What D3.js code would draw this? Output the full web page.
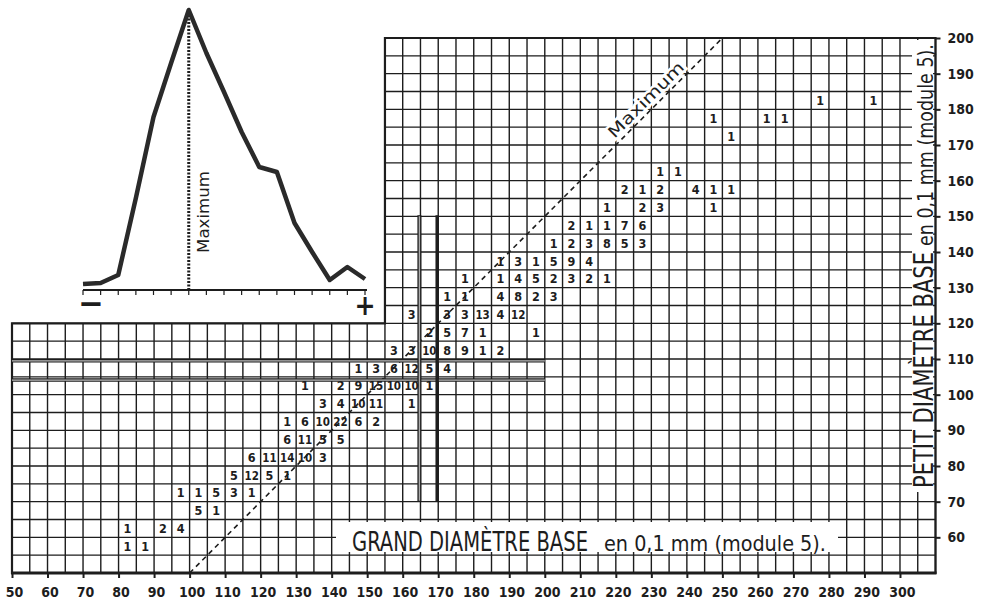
<!DOCTYPE html>
<html>
<head>
<meta charset="utf-8">
<script src="https://cdn.jsdelivr.net/npm/d3@7"></script>
<style>
  body { margin: 0; background: #fff; }
  svg { display: block; }
  text { font-family: "DejaVu Sans Condensed", "DejaVu Sans", sans-serif; fill: #1d1d1d; }
</style>
</head>
<body>
<svg id="chart" width="984" height="606"></svg>
<script>
// grand diametre (x) / petit diametre (y), classes of 5 (0,1 mm)
const GRAND_TICKS = [50, 60, 70, 80, 90, 100, 110, 120, 130, 140, 150, 160, 170, 180, 190, 200, 210, 220, 230, 240, 250, 260, 270, 280, 290, 300];
const PETIT_TICKS = [60, 70, 80, 90, 100, 110, 120, 130, 140, 150, 160, 170, 180, 190, 200];

// one entry per row of the table (lower bound of the petit class)
const PETIT_ROWS = [55, 60, 65, 70, 75, 80, 85, 90, 95, 100, 105, 110, 115, 120, 125, 130, 135, 140, 145, 150, 155, 160, 170, 175, 180];
const GRAND_BY_ROW = [
  [80, 85],
  [80, 90, 95],
  [100, 105],
  [95, 100, 105, 110, 115],
  [110, 115, 120, 125],
  [115, 120, 125, 130, 135],
  [125, 130, 135, 140],
  [125, 130, 135, 140, 145, 150],
  [135, 140, 145, 150, 160],
  [130, 140, 145, 150, 155, 160, 165],
  [145, 150, 155, 160, 165, 170],
  [155, 160, 165, 170, 175, 180, 185],
  [165, 170, 175, 180, 195],
  [160, 170, 175, 180, 185, 190],
  [170, 175, 185, 190, 195, 200],
  [175, 185, 190, 195, 200, 205, 210, 215],
  [185, 190, 195, 200, 205, 210],
  [200, 205, 210, 215, 220, 225],
  [205, 210, 215, 220, 225],
  [215, 225, 230, 245],
  [220, 225, 230, 240, 245, 250],
  [230, 235],
  [250],
  [245, 260, 265],
  [275, 290]
];
const COUNT_BY_ROW = [
  [1, 1],
  [1, 2, 4],
  [5, 1],
  [1, 1, 5, 3, 1],
  [5, 12, 5, 1],
  [6, 11, 14, 10, 3],
  [6, 11, 5, 5],
  [1, 6, 10, 22, 6, 2],
  [3, 4, 10, 11, 1],
  [1, 2, 9, 15, 10, 10, 1],
  [1, 3, 6, 12, 5, 4],
  [3, 3, 10, 8, 9, 1, 2],
  [2, 5, 7, 1, 1],
  [3, 3, 3, 13, 4, 12],
  [1, 1, 4, 8, 2, 3],
  [1, 1, 4, 5, 2, 3, 2, 1],
  [1, 3, 1, 5, 9, 4],
  [1, 2, 3, 8, 5, 3],
  [2, 1, 1, 7, 6],
  [1, 2, 3, 1],
  [2, 1, 2, 4, 1, 1],
  [1, 1],
  [1],
  [1, 1, 1],
  [1, 1]
];

// reference lines drawn across the table
const H_LINES = [109.5, 104.1];
const V_LINES = [164.7, 169.7];

// small frequency curve (upper left)
const INSET_STEP = [0, 1, 2, 3, 4, 5, 6, 7, 8, 9, 10, 11, 12, 13, 14, 15, 16];
const INSET_FREQ = [6, 7, 15, 92, 173, 227, 280, 237, 198, 158, 123, 118, 67, 38, 10, 23, 11];
const INSET_MAX_STEP = 6;

const svg = d3.select("#chart");
const ink = "#1d1d1d";

const x = d3.scaleLinear().domain([50, 310]).range([12, 935.5]);
const y = d3.scaleLinear().domain([50, 200]).range([573, 38]);

// narrow lettering: draw at full size then squeeze to the wanted width
function squeeze(parent, str, size, width, anchor) {
  let t = parent.append("text").attr("font-size", size).text(str);
  let w = t.node().getComputedTextLength();
  if (anchor) t.attr("text-anchor", anchor);
  t.attr("transform", `scale(${width / w},1)`);
  return t;
}

// grid (stepped outline: low part stops at 155 / 120)
let grid = d3.path();
for (let v = 50; v <= 310; v += 5) {
  let top = v < 155 ? 120 : 200;
  grid.moveTo(x(v), y(50));
  grid.lineTo(x(v), y(top));
}
for (let w = 50; w <= 200; w += 5) {
  let left = w <= 120 ? 50 : 155;
  grid.moveTo(x(left), y(w));
  grid.lineTo(x(310), y(w));
}
svg.append("path")
  .attr("d", grid.toString())
  .attr("fill", "none")
  .attr("stroke", ink)
  .attr("stroke-width", 1.4);

let outline = d3.path();
outline.moveTo(x(50), y(50));
outline.lineTo(x(50), y(120));
outline.lineTo(x(155), y(120));
outline.lineTo(x(155), y(200));
outline.lineTo(x(310), y(200));
outline.lineTo(x(310), y(50));
outline.closePath();
svg.append("path")
  .attr("d", outline.toString())
  .attr("fill", "none")
  .attr("stroke", ink)
  .attr("stroke-width", 2.2);

svg.append("line")
  .attr("x1", x(50) - 1).attr("x2", x(310) + 1)
  .attr("y1", y(50)).attr("y2", y(50))
  .attr("stroke", ink).attr("stroke-width", 3.2);

// bottom axis
let axisX = d3.axisBottom(x).tickValues(GRAND_TICKS).tickSize(5).tickPadding(9);
let gx = svg.append("g").attr("transform", `translate(0,${y(50)})`).call(axisX);
gx.select(".domain").remove();
gx.selectAll("line").attr("stroke", ink).attr("stroke-width", 2);
gx.selectAll("text")
  .attr("dx", 2)
  .attr("font-family", "DejaVu Sans Condensed, DejaVu Sans, sans-serif")
  .attr("font-size", 14)
  .attr("font-weight", "bold")
  .attr("fill", ink);

// right axis
let axisY = d3.axisRight(y).tickValues(PETIT_TICKS).tickSize(5).tickPadding(7);
let gy = svg.append("g").attr("transform", `translate(${x(310)},0)`).call(axisY);
gy.select(".domain").remove();
gy.selectAll("line").attr("stroke", ink).attr("stroke-width", 2);
gy.selectAll("text")
  .attr("font-family", "DejaVu Sans Condensed, DejaVu Sans, sans-serif")
  .attr("font-size", 14)
  .attr("font-weight", "bold")
  .attr("fill", ink);

// diagonal "Maximum" line (petit = grand - 50)
svg.append("line")
  .attr("x1", x(100)).attr("y1", y(50))
  .attr("x2", x(250)).attr("y2", y(200))
  .attr("stroke", ink)
  .attr("stroke-width", 1.6)
  .attr("stroke-dasharray", "5,4");

// double reference lines
H_LINES.forEach(v => {
  svg.append("line")
    .attr("x1", x(50)).attr("x2", x(200))
    .attr("y1", y(v)).attr("y2", y(v))
    .attr("stroke", ink).attr("stroke-width", 3.6);
  svg.append("line")
    .attr("x1", x(50)).attr("x2", x(200))
    .attr("y1", y(v)).attr("y2", y(v))
    .attr("stroke", "#bbb").attr("stroke-width", 1.2);
});
V_LINES.forEach((v, i) => {
  svg.append("line")
    .attr("x1", x(v)).attr("x2", x(v))
    .attr("y1", y(70)).attr("y2", y(150.3))
    .attr("stroke", ink).attr("stroke-width", i == 0 ? 4 : 3.4);
  if (i == 0) {
    svg.append("line")
      .attr("x1", x(v)).attr("x2", x(v))
      .attr("y1", y(70) - 1).attr("y2", y(150.3) + 1)
      .attr("stroke", "#aaa").attr("stroke-width", 1.4);
  }
});

// counts
let cells = [];
PETIT_ROWS.forEach((p, i) => {
  GRAND_BY_ROW[i].forEach((g, j) => cells.push({grand: g, petit: p, n: COUNT_BY_ROW[i][j]}));
});
svg.append("g").selectAll("text")
  .data(cells)
  .enter()
  .append("text")
  .attr("x", d => x(d.grand + 2.5))
  .attr("y", d => y(d.petit + 2.5) + 4.6)
  .attr("text-anchor", "middle")
  .attr("font-size", d => d.n >= 10 ? 11.5 : 12.5)
  .attr("font-weight", "bold")
  .text(d => d.n);

// axis titles on white boxes
svg.append("rect").attr("x", 336).attr("y", 522).attr("width", 502).attr("height", 30).attr("fill", "#fff");
squeeze(svg.append("g").attr("transform", "translate(352,551)"), "GRAND DIAMÈTRE BASE", 27, 236);
squeeze(svg.append("g").attr("transform", "translate(604,551)"), "en 0,1 mm (module 5).", 22, 222);

svg.append("rect").attr("x", 912).attr("y", 40).attr("width", 21).attr("height", 452).attr("fill", "#fff");
squeeze(svg.append("g").attr("transform", "translate(933,488) rotate(-90)"), "PETIT DIAMÈTRE BASE", 27, 236);
squeeze(svg.append("g").attr("transform", "translate(933,246) rotate(-90)"), "en 0,1 mm (module 5).", 21, 202);

// "Maximum" along the diagonal
let mx = x(230.6), my = y(180.6);
squeeze(svg.append("g").attr("transform", `translate(${mx},${my}) rotate(-45) translate(0,-5)`), "Maximum", 16, 100, "middle")
  .attr("stroke", "#fff").attr("stroke-width", 5).attr("paint-order", "stroke");

// inset frequency curve
const ix = d3.scaleLinear().domain([0, 16]).range([83, 365]);
const iy = d3.scaleLinear().domain([0, 280]).range([290, 10]);
let inset = svg.append("g");
inset.append("line")
  .attr("x1", ix(0)).attr("x2", ix(16) + 2)
  .attr("y1", iy(0)).attr("y2", iy(0))
  .attr("stroke", ink).attr("stroke-width", 2);
inset.selectAll(".itick")
  .data(INSET_STEP)
  .enter()
  .append("line")
  .attr("x1", d => ix(d)).attr("x2", d => ix(d))
  .attr("y1", iy(0)).attr("y2", iy(0) + 5)
  .attr("stroke", ink).attr("stroke-width", 1.2);
inset.append("line")
  .attr("x1", ix(INSET_MAX_STEP)).attr("x2", ix(INSET_MAX_STEP))
  .attr("y1", iy(0)).attr("y2", iy(INSET_FREQ[INSET_MAX_STEP]))
  .attr("stroke", ink).attr("stroke-width", 3)
  .attr("stroke-dasharray", "2,1.5");
inset.append("path")
  .datum(INSET_STEP)
  .attr("d", d3.line().x(d => ix(d)).y(d => iy(INSET_FREQ[d])))
  .attr("fill", "none")
  .attr("stroke", "#2a2a2a")
  .attr("stroke-width", 4.5)
  .attr("stroke-linejoin", "round");
squeeze(inset.append("g").attr("transform", `translate(${ix(INSET_MAX_STEP) + 20},212) rotate(-90)`), "Maximum", 15, 82, "middle");
inset.append("text")
  .attr("x", ix(0) + 8).attr("y", 315)
  .attr("text-anchor", "middle")
  .attr("font-size", 34).attr("font-weight", "bold")
  .text("−");
inset.append("text")
  .attr("x", ix(16)).attr("y", 315)
  .attr("text-anchor", "middle")
  .attr("font-size", 28).attr("font-weight", "bold")
  .text("+");
</script>
</body>
</html>
